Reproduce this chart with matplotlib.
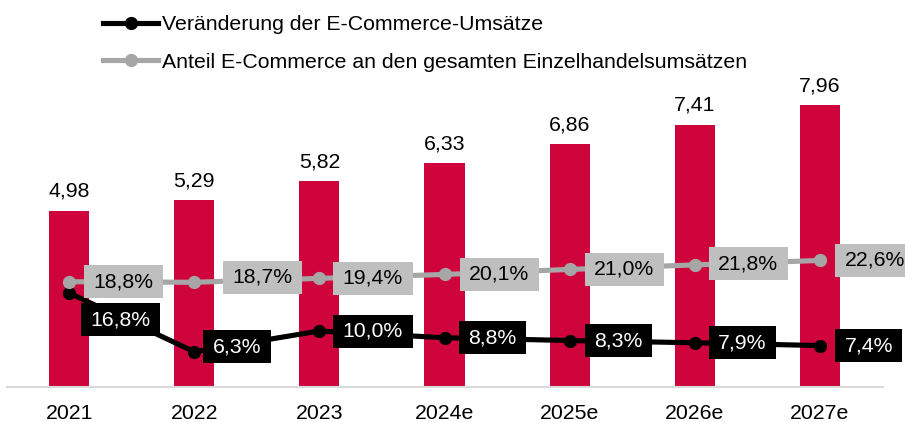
import matplotlib
matplotlib.use("Agg")
import matplotlib.pyplot as plt
from matplotlib.patches import Rectangle
from matplotlib.transforms import IdentityTransform

plt.rcParams['font.family'] = ['Liberation Sans', 'DejaVu Sans']

categories = ["2021", "2022", "2023", "2024e", "2025e", "2026e", "2027e"]
revenue = [4.98, 5.29, 5.82, 6.33, 6.86, 7.41, 7.96]
change_pct = [16.8, 6.3, 10.0, 8.8, 8.3, 7.9, 7.4]
share_pct = [18.8, 18.7, 19.4, 20.1, 21.0, 21.8, 22.6]
legend_labels = ["Veränderung der E-Commerce-Umsätze",
                 "Anteil E-Commerce an den gesamten Einzelhandelsumsätzen"]

BAR = "#D0043C"
GRAY_LINE = "#A6A6A6"
GRAY_BOX = "#BFBFBF"
FS = 15.3

W, H = 905, 422
fig = plt.figure(figsize=(W / 100, H / 100), dpi=100)
ax = fig.add_axes([6.5 / W, 35 / H, 876 / W, 317 / H])
ax2 = ax.twinx()

x = list(range(len(categories)))
bars = ax.bar(x, revenue, width=0.32, color=BAR, zorder=2)
ax.bar_label(bars, labels=[f"{v:.2f}".replace(".", ",") for v in revenue],
             padding=7, fontsize=FS, color="black")
ax.set_xlim(-0.5, len(categories) - 0.5)
ax.set_ylim(0, 317 / 35.4)
ax.set_xticks(x)
ax.set_xticklabels(categories, fontsize=FS)
ax.tick_params(axis="x", length=0, pad=12.5)
ax.set_yticks([])
for s in ["top", "left", "right"]:
    ax.spines[s].set_visible(False)
ax.spines["bottom"].set_color("#D9D9D9")
ax.spines["bottom"].set_linewidth(1.5)

ax2.set_ylim(0, 317 / 5.6)
ax2.set_yticks([])
for s in ["top", "left", "right", "bottom"]:
    ax2.spines[s].set_visible(False)

l1, = ax2.plot(x, change_pct, color="black", lw=3.7, marker="o", ms=8.5, zorder=3,
               label=legend_labels[0])
l2, = ax2.plot(x, share_pct, color=GRAY_LINE, lw=3.7, marker="o", ms=8.5, zorder=3,
               label=legend_labels[1])

# label offsets in pixels: (left gap of box from point, vertical shift)
share_off = [(15, 0), (29, 5), (14, 0), (15, 0), (15, 0), (14, 1), (15, 0)]
change_off = [(12, -27), (9, 5), (14, 0), (14, 0), (15, 0), (14, 0), (15, 0)]
PADX = 9.5
BOXH = 33

texts = []
for vals, offs, fc, tc in [(share_pct, share_off, GRAY_BOX, "black"),
                           (change_pct, change_off, "black", "white")]:
    for i, (v, (dx, dy)) in enumerate(zip(vals, offs)):
        t = ax2.annotate(f"{v:.1f}%".replace(".", ","), (i, v),
                         xytext=(dx + PADX, dy), textcoords="offset pixels",
                         ha="left", va="center", fontsize=FS, color=tc,
                         zorder=6, annotation_clip=False)
        t.set_clip_on(False)
        texts.append((t, fc))

leg = fig.legend(handles=[l1, l2], loc="upper left",
                 bbox_to_anchor=(103 / W, 1 - 15 / H), frameon=False,
                 fontsize=FS, handlelength=2.6, handletextpad=0.2,
                 labelspacing=0.88, borderpad=0, borderaxespad=0)

fig.canvas.draw()
r = fig.canvas.get_renderer()
for t, fc in texts:
    bb = t.get_window_extent(r)
    cy = (bb.y0 + bb.y1) / 2
    rect = Rectangle((bb.x0 - PADX, cy - BOXH / 2), bb.width + 2 * PADX, BOXH,
                     facecolor=fc, edgecolor="none", transform=IdentityTransform(),
                     zorder=5, clip_on=False)
    ax2.add_artist(rect)

fig.savefig("out.png", dpi=100)
